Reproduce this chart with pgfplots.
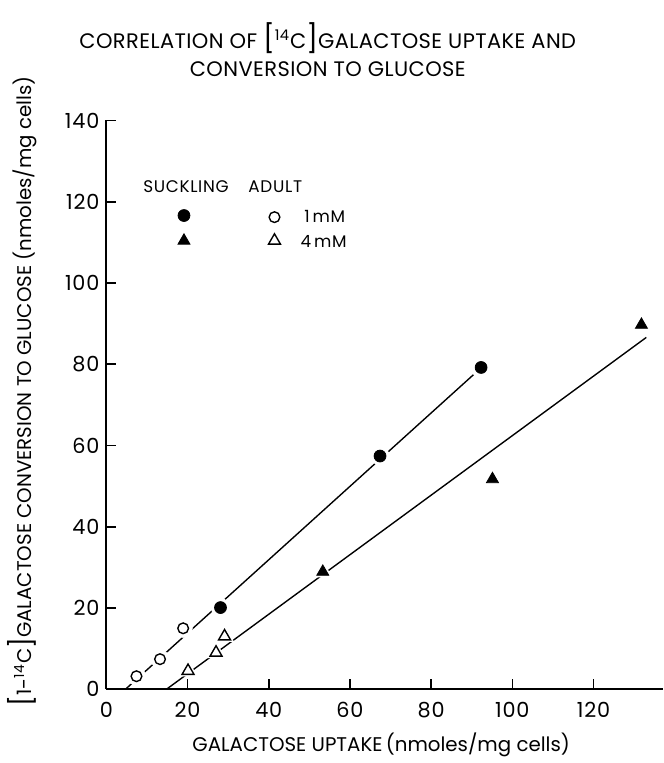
\documentclass[border=0pt]{standalone}
\usepackage{pgfplots}
\pgfplotsset{compat=1.18}
\usepackage{fontspec}
\setmainfont{Poppins}
\newfontfamily\lab[LetterSpace=4]{Poppins}
\newfontfamily\ttl[LetterSpace=2]{Poppins}

\begin{document}
\begin{tikzpicture}
\begin{axis}[scale only axis, width=280.9pt, height=287.3pt,
  xmin=0, xmax=137, ymin=0, ymax=140,
  axis x line*=bottom, axis y line*=left, axis line style={line width=1pt, -},
  tick align=inside, major tick length=5pt, tick style={line width=0.8pt, black},
  xtick={0,20,...,120}, ytick={0,20,...,140},
  /pgf/number format/assume math mode=true,
  tick label style={font=\lab\fontsize{10.5}{11}\selectfont},
  xticklabel style={yshift=-3pt},
  clip=false,
  xlabel={GALACTOSE UPTAKE\,(nmoles/mg cells)},
  ylabel={{\fontsize{13}{13}\selectfont[}1-\textsuperscript{14}C{\fontsize{13}{13}\selectfont]}GALACTOSE CONVERSION TO GLUCOSE (nmoles/mg cells)},
  label style={font=\lab\fontsize{9}{10}\selectfont},
  every axis x label/.style={at={(rel axis cs:0.494,-0.097)}, anchor=center},
  every axis y label/.style={at={(rel axis cs:-0.152,0.524)}, rotate=90, anchor=center},
]
% fitted lines
\addplot[black, line width=0.7pt] coordinates {(4.7,0) (90.4,77.4)};
\addplot[black, line width=0.7pt] coordinates {(14.8,0) (133,86.6)};
% white halos to break lines near markers
\addplot[only marks, mark=*, white, mark size=4.6pt] coordinates {(28.1,20.1) (67.4,57.4) (92.3,79.2) (7.4,3.2) (13.2,7.4) (18.9,15.0)};
\addplot[only marks, mark=triangle*, white, mark size=5.2pt] coordinates {(53.3,28.9) (95.1,51.7) (131.8,89.7) (20.1,4.5) (27.0,9.0) (29.1,13.0)};
% suckling 1 mM
\addplot[only marks, mark=*, black, mark size=3pt] coordinates {(28.1,20.1) (67.4,57.4) (92.3,79.2)};
% adult 1 mM
\addplot[only marks, mark=o, black, mark size=2.7pt, mark options={line width=0.7pt, fill=white}] coordinates {(7.4,3.2) (13.2,7.4) (18.9,15.0)};
% suckling 4 mM
\addplot[only marks, mark=triangle*, black, mark size=3.5pt] coordinates {(53.3,28.9) (95.1,51.7) (131.8,89.7)};
% adult 4 mM
\addplot[only marks, mark=triangle, black, mark size=3.5pt, mark options={line width=0.7pt, fill=white}] coordinates {(20.1,4.5) (27.0,9.0) (29.1,13.0)};
% legend
\addplot[only marks, mark=*, black, mark size=3pt] coordinates {(19.1,116.6)};
\addplot[only marks, mark=triangle*, black, mark size=3.5pt] coordinates {(19.1,110.4)};
\addplot[only marks, mark=o, black, mark size=2.7pt, mark options={line width=0.7pt}] coordinates {(41.4,116.2)};
\addplot[only marks, mark=triangle, black, mark size=3.5pt, mark options={line width=0.7pt}] coordinates {(41.4,110.4)};
\node[font=\lab\fontsize{8.5}{10}\selectfont] at (axis cs:19.6,123.6) {SUCKLING};
\node[font=\lab\fontsize{8.5}{10}\selectfont] at (axis cs:41.6,123.6) {ADULT};
\node[font=\lab\fontsize{8.5}{10}\selectfont] at (axis cs:53.8,116.4) {1\,mM};
\node[font=\lab\fontsize{8.5}{10}\selectfont] at (axis cs:53.5,110.2) {4\,mM};
% title
\node[align=center, font=\ttl\fontsize{10.6}{14}\selectfont] at (rel axis cs:0.398,1.125)
  {CORRELATION OF {\fontsize{14}{14}\selectfont[}\textsuperscript{14}C{\fontsize{14}{14}\selectfont]}GALACTOSE UPTAKE AND\\CONVERSION TO GLUCOSE};
% page frame matching the reference margins
\path (rel axis cs:-0.1914,1.2118) rectangle (rel axis cs:0.9996,-0.1161);
\end{axis}
\end{tikzpicture}
\end{document}
